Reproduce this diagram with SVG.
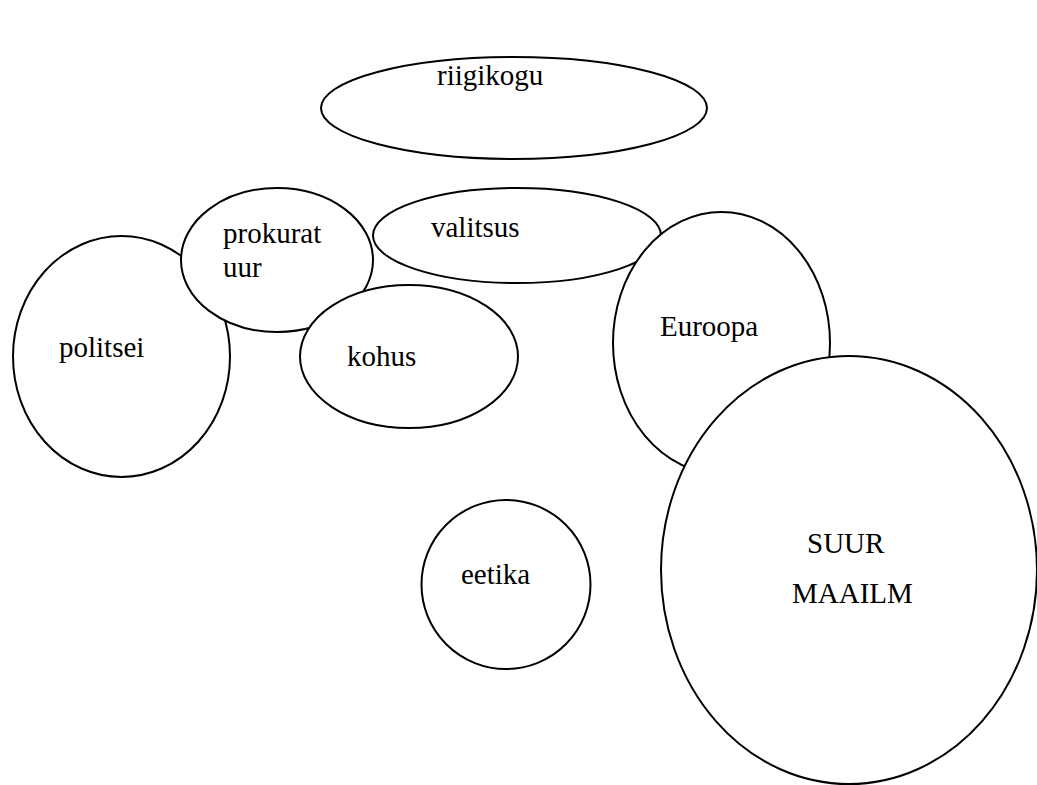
<svg xmlns="http://www.w3.org/2000/svg" width="1037" height="785" viewBox="0 0 1037 785">
<style>
.n{fill:#fff;stroke:#000;stroke-width:2}
</style>
<rect width="1037" height="785" fill="#fff"/>
<g id="riigikogu"><ellipse class="n" cx="514" cy="108" rx="193" ry="51"/><text x="437" y="85" font-size="29" font-family="Liberation Serif" style="font-family:'Liberation Serif'">riigikogu</text></g>
<g id="politsei"><ellipse class="n" cx="121.5" cy="356.5" rx="108.5" ry="120.5"/><text x="59" y="357" font-size="29" font-family="Liberation Serif" style="font-family:'Liberation Serif'">politsei</text></g>
<g id="prokuratuur"><ellipse class="n" cx="277" cy="260" rx="96" ry="72"/><text x="223" y="243" font-size="29" font-family="Liberation Serif" style="font-family:'Liberation Serif'">prokurat</text><text x="223" y="277" font-size="29" font-family="Liberation Serif" style="font-family:'Liberation Serif'">uur</text></g>
<g id="valitsus"><ellipse class="n" cx="517" cy="235.5" rx="144" ry="47.5"/><text x="431" y="237" font-size="29" font-family="Liberation Serif" style="font-family:'Liberation Serif'">valitsus</text></g>
<g id="kohus"><ellipse class="n" cx="409" cy="356.5" rx="109" ry="71.5"/><text x="347" y="366" font-size="29" font-family="Liberation Serif" style="font-family:'Liberation Serif'">kohus</text></g>
<g id="euroopa"><ellipse class="n" cx="721.5" cy="343" rx="108.5" ry="131"/><text x="660" y="336" font-size="29" font-family="Liberation Serif" style="font-family:'Liberation Serif'">Euroopa</text></g>
<g id="suur-maailm"><ellipse class="n" cx="849" cy="570" rx="188" ry="214"/><text x="807" y="553" font-size="29" font-family="Liberation Serif" style="font-family:'Liberation Serif'">SUUR</text><text x="792" y="603" font-size="29" font-family="Liberation Serif" style="font-family:'Liberation Serif'">MAAILM</text></g>
<g id="eetika"><ellipse class="n" cx="506" cy="584.5" rx="84.5" ry="84.5"/><text x="461" y="584" font-size="29" font-family="Liberation Serif" style="font-family:'Liberation Serif'">eetika</text></g>
</svg>
